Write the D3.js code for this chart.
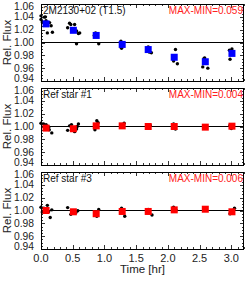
<!DOCTYPE html>
<meta charset="utf-8">
<style>
body { margin: 0; background: #fff; }
text { font-family: "Liberation Sans", Arial, sans-serif; }
</style>
<body>
<script src="https://cdn.jsdelivr.net/npm/d3@7"></script>
<script>
// panel labels
var names = ["2M2130+02 (T1.5)", "Ref star #1", "Ref star #3"];
var spreads = ["MAX-MIN=0.059", "MAX-MIN=0.004", "MAX-MIN=0.006"];
var binColors = ["#0000ff", "#ff0000", "#ff0000"];

// binned points (hours, rel flux)
var binT = [0.08, 0.51, 0.87, 1.28, 1.69, 2.10, 2.59, 3.01];
var binF1 = [1.029, 1.019, 1.011, 0.997, 0.989, 0.977, 0.970, 0.983];
var binF2 = [0.9975, 0.9965, 1.001, 1.001, 1.000, 1.000, 0.999, 1.0005];
var binF3 = [1.000, 0.998, 0.995, 0.9985, 0.9985, 1.001, 1.002, 0.998];

// individual frames
var t1 = [0.00, 0.055, 0.07, 0.00, 0.02, 0.08, 0.135, 0.16, 0.10, 0.18,
          0.45, 0.47, 0.42, 0.53, 0.56, 0.59, 0.61, 0.56,
          0.86, 0.88, 0.91, 0.84, 1.26, 1.27, 1.69, 1.71, 1.74,
          2.12, 2.08, 2.09, 2.15, 2.58, 2.57, 2.55, 2.63, 2.97, 3.01, 2.98, 3.03];
var f1 = [1.0415, 1.0395, 1.040, 1.036, 1.032, 1.034, 1.031, 1.026, 1.015, 1.016,
          1.030, 1.028, 1.023, 1.028, 1.018, 1.014, 1.015, 0.998,
          1.015, 1.013, 0.998, 1.011, 1.002, 0.991, 0.993, 0.985, 0.984,
          0.989, 0.975, 0.971, 0.967, 0.976, 0.975, 0.962, 0.960, 0.988, 0.990, 0.974, 0.983];
var t2 = [0.00, 0.04, 0.08, 0.12, 0.13, 0.17, 0.11,
          0.42, 0.45, 0.48, 0.56, 0.53, 0.59, 0.57,
          0.88, 0.85, 0.90, 1.27, 1.31, 1.67, 1.72, 2.09, 2.12, 2.59, 2.98, 3.00];
var f2 = [1.005, 1.004, 1.003, 0.999, 0.995, 0.990, 1.000,
          0.994, 1.001, 1.003, 0.996, 0.992, 1.004, 1.000,
          1.009, 0.995, 1.006, 1.003, 1.005, 1.001, 1.002, 1.004, 0.996, 0.999, 1.002, 0.997];
var t3 = [0.00, 0.045, 0.10, 0.12, 0.145, 0.17, 0.02,
          0.42, 0.47, 0.58, 0.55, 0.88, 0.91, 0.85, 1.27, 1.32, 1.69, 1.75,
          2.09, 2.13, 2.59, 2.98, 3.05];
var f3 = [1.005, 1.0035, 1.008, 0.9985, 0.989, 1.001, 0.9975,
          1.0045, 0.994, 0.9995, 0.997, 0.991, 1.0015, 0.996, 1.0035, 0.991, 1.0015, 0.993,
          1.005, 1.0005, 1.003, 0.995, 1.0035];

var yTicks = [0.94, 0.96, 0.98, 1.00, 1.02, 1.04, 1.06];
var xTicks = [0.0, 0.5, 1.0, 1.5, 2.0, 2.5, 3.0];

var panels = [
  {t: t1, f: f1, bf: binF1},
  {t: t2, f: f2, bf: binF2},
  {t: t3, f: f3, bf: binF3}
];

var W = 249, H = 282;
var left = 41, right = 244, top0 = 4, ph = 77, step = 84;

var svg = d3.select("body").append("svg")
    .attr("width", W).attr("height", H);

var x = d3.scaleLinear().domain([0, 3.2]).range([left, right]);
var xMinor = d3.range(0, 3.21, 0.1);
var yMinor = d3.range(0.94, 1.0601, 0.005);

panels.forEach(function(p, i) {
  var y0 = top0 + i * step;
  var y = d3.scaleLinear().domain([0.94, 1.06]).range([y0 + ph, y0]);
  var g = svg.append("g");

  // zero line
  g.append("line")
      .attr("x1", left).attr("x2", right)
      .attr("y1", y(1)).attr("y2", y(1))
      .attr("stroke", "#000").attr("stroke-width", 1.2);

  // ticks, all four sides
  yMinor.forEach(function(v) {
    var major = yTicks.some(function(t) { return Math.abs(t - v) < 1e-6; });
    var len = major ? 4 : 2;
    var yy = Math.round(y(v)) + 0.5;
    g.append("line").attr("x1", left).attr("x2", left + len)
        .attr("y1", yy).attr("y2", yy).attr("stroke", "#000").attr("stroke-width", 0.8);
    g.append("line").attr("x1", right).attr("x2", right - len)
        .attr("y1", yy).attr("y2", yy).attr("stroke", "#000").attr("stroke-width", 0.8);
  });
  xMinor.forEach(function(v) {
    var major = xTicks.some(function(t) { return Math.abs(t - v) < 1e-6; });
    var len = major ? 4 : 2;
    var xx = Math.round(x(v)) + 0.5;
    g.append("line").attr("x1", xx).attr("x2", xx)
        .attr("y1", y0 + ph).attr("y2", y0 + ph - len).attr("stroke", "#000").attr("stroke-width", 0.8);
    g.append("line").attr("x1", xx).attr("x2", xx)
        .attr("y1", y0).attr("y2", y0 + len).attr("stroke", "#000").attr("stroke-width", 0.8);
  });

  // frame
  g.append("rect")
      .attr("x", left + 0.5).attr("y", y0 + 0.5)
      .attr("width", right - left - 1).attr("height", ph)
      .attr("fill", "none").attr("stroke", "#000").attr("stroke-width", 1);

  // y tick labels (end labels nudged inward like the original)
  g.selectAll(".ylab").data(yTicks).enter().append("text")
      .attr("x", left - 7)
      .attr("y", function(d) {
        var nudge = d === 1.06 ? 2.5 : (d === 0.94 ? -2.5 : 0);
        return y(d) + nudge + 3.5;
      })
      .attr("text-anchor", "end")
      .attr("font-size", 10.3)
      .attr("fill", "#222")
      .text(function(d) { return d.toFixed(2); });

  g.append("text")
      .attr("transform", "translate(11," + (y0 + ph / 2) + ") rotate(-90)")
      .attr("text-anchor", "middle")
      .attr("font-size", 11.5)
      .attr("fill", "#222")
      .text("Rel. Flux");

  // individual frames
  g.selectAll(".pt").data(p.t).enter().append("circle")
      .attr("cx", function(d) { return x(d); })
      .attr("cy", function(d, k) { return y(p.f[k]); })
      .attr("r", 1.7)
      .attr("fill", "#000");

  // binned
  g.selectAll(".bin").data(binT).enter().append("rect")
      .attr("x", function(d) { return x(d) - 3.5; })
      .attr("y", function(d, k) { return y(p.bf[k]) - 3.5; })
      .attr("width", 7).attr("height", 7)
      .attr("fill", binColors[i]);

  g.append("text")
      .attr("x", left + 2).attr("y", y0 + 10)
      .attr("font-size", 10)
      .attr("fill", "#111")
      .text(names[i]);

  g.append("text")
      .attr("x", right - 1).attr("y", y0 + 10)
      .attr("text-anchor", "end")
      .attr("font-size", 10)
      .attr("fill", "#ff2020")
      .text(spreads[i]);
});

// x axis labels under bottom panel
var yb = top0 + 2 * step + ph;
svg.selectAll(".xlab").data(xTicks).enter().append("text")
    .attr("x", function(d) { return x(d); })
    .attr("y", yb + 13)
    .attr("text-anchor", "middle")
    .attr("font-size", 11)
    .attr("fill", "#222")
    .text(function(d) { return d.toFixed(1); });

svg.append("text")
    .attr("x", (left + right) / 2).attr("y", yb + 24)
    .attr("text-anchor", "middle")
    .attr("font-size", 11.5)
    .attr("fill", "#222")
    .text("Time [hr]");
</script>
</body>
